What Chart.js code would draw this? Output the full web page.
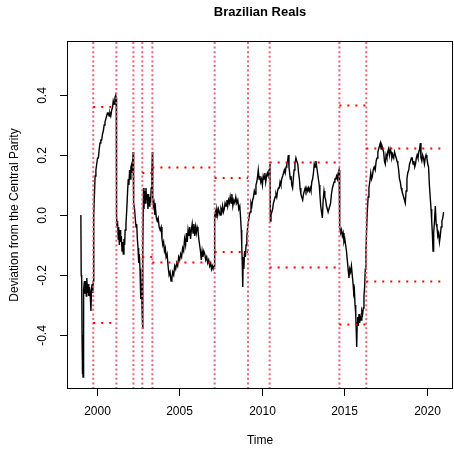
<!DOCTYPE html>
<html>
<head>
<meta charset="utf-8">
<script src="https://cdn.jsdelivr.net/npm/chart.js@4"></script>
<style>
html,body{margin:0;padding:0;background:#fff;}
#wrap{width:454px;height:452px;}
</style>
</head>
<body>
<div id="wrap"><canvas id="c" width="454" height="452"></canvas></div>
<script>
// ---- data ----
const titleText = "Brazilian Reals";
const xTitle = "Time";
const yTitle = "Deviation from the Central Parity";
const xTicks = [2000, 2005, 2010, 2015, 2020];
const yTicks = [-0.4, -0.2, 0.0, 0.2, 0.4];

const times = [
1999.04,1999.06,1999.09,1999.11,1999.13,1999.15,1999.17,1999.19,1999.22,1999.25,1999.29,1999.33,1999.37,1999.40,1999.44,1999.48,1999.52,1999.56,1999.60,1999.65,1999.68,1999.72,1999.76,1999.79,
1999.82,1999.85,1999.90,1999.95,2000.00,2000.05,2000.10,2000.15,2000.20,2000.25,2000.30,2000.35,2000.40,2000.45,2000.50,2000.55,2000.60,2000.65,2000.70,2000.75,2000.80,2000.85,2000.91,2000.96,2001.00,2001.05,2001.10,2001.15,2001.18,
2001.20,2001.23,2001.26,2001.30,2001.33,2001.37,2001.41,2001.45,2001.49,2001.53,2001.57,2001.61,2001.65,2001.69,2001.72,2001.77,2001.82,2001.87,2001.91,2001.95,2001.99,2002.03,2002.07,2002.12,2002.16,2002.20,2002.22,
2002.25,2002.29,2002.33,2002.38,2002.42,2002.46,2002.50,2002.54,2002.58,2002.62,2002.65,2002.68,2002.72,2002.75,2002.78,
2002.80,2002.83,2002.86,2002.90,2002.94,2002.98,2003.02,2003.06,2003.10,2003.14,2003.18,2003.22,2003.26,2003.30,2003.34,2003.37,
2003.39,2003.43,2003.47,2003.52,2003.56,2003.61,2003.66,2003.72,2003.78,2003.84,2003.90,2003.95,2004.00,2004.05,2004.10,2004.15,2004.20,2004.26,2004.32,2004.38,2004.44,2004.50,2004.55,2004.60,2004.66,2004.72,2004.78,2004.84,2004.90,2004.96,
2005.02,2005.08,2005.14,2005.20,2005.26,2005.32,2005.38,2005.43,2005.48,2005.53,2005.58,2005.63,2005.68,2005.73,2005.78,2005.83,2005.88,2005.93,2005.98,2006.03,2006.08,2006.13,2006.18,2006.23,2006.28,2006.33,2006.38,2006.43,2006.48,2006.54,2006.60,2006.66,2006.72,2006.78,2006.84,2006.90,2006.95,2007.00,2007.05,2007.11,
2007.14,2007.18,2007.22,2007.27,2007.32,2007.37,2007.42,2007.47,2007.52,2007.57,2007.62,2007.67,2007.72,2007.77,2007.83,2007.88,2007.93,2007.98,2008.03,2008.08,2008.13,2008.18,2008.24,2008.30,2008.36,2008.42,2008.48,2008.54,2008.60,2008.66,2008.71,2008.75,2008.78,2008.81,2008.84,2008.87,2008.91,2008.95,
2009.00,2009.04,2009.09,2009.14,2009.19,2009.24,2009.29,2009.34,2009.39,2009.44,2009.49,2009.54,2009.59,2009.64,2009.69,2009.74,2009.78,2009.83,2009.88,2009.93,2009.98,2010.03,2010.08,2010.13,2010.18,2010.23,2010.28,2010.33,2010.38,2010.43,2010.49,
2010.51,2010.55,2010.60,2010.65,2010.70,2010.75,2010.80,2010.85,2010.90,2010.95,2011.00,2011.05,2011.10,2011.15,2011.20,2011.26,2011.31,2011.36,2011.41,2011.46,2011.51,2011.56,2011.60,2011.64,2011.68,2011.72,2011.76,2011.81,2011.86,2011.90,2011.95,
2012.00,2012.06,2012.11,2012.17,2012.22,2012.27,2012.31,2012.36,2012.41,2012.47,2012.52,2012.57,2012.62,2012.67,2012.72,2012.77,2012.82,2012.87,2012.92,2012.97,2013.02,2013.07,2013.12,2013.17,2013.22,2013.27,2013.32,2013.37,2013.42,2013.47,2013.51,2013.56,2013.61,2013.66,2013.71,2013.76,2013.81,2013.86,2013.91,2013.96,
2014.01,2014.06,2014.11,2014.16,2014.21,2014.27,2014.32,2014.37,2014.42,2014.47,2014.52,2014.57,2014.62,2014.67,2014.70,
2014.72,2014.77,2014.82,2014.87,2014.92,2014.97,2015.02,2015.07,2015.12,2015.17,2015.22,2015.27,2015.32,2015.37,2015.42,2015.47,2015.52,2015.56,2015.60,2015.64,2015.68,2015.71,2015.74,2015.77,2015.80,2015.84,2015.88,2015.92,2015.96,2016.00,2016.05,2016.10,2016.14,2016.18,2016.22,2016.26,2016.30,
2016.34,2016.38,2016.43,2016.48,2016.53,2016.59,2016.64,2016.69,2016.74,2016.80,2016.86,2016.92,2016.97,2017.02,2017.07,2017.12,2017.17,2017.22,2017.27,2017.32,2017.37,2017.42,2017.47,2017.52,2017.57,2017.62,2017.67,2017.72,2017.77,2017.82,2017.87,2017.92,2017.98,
2018.03,2018.08,2018.13,2018.18,2018.23,2018.28,2018.33,2018.38,2018.43,2018.48,2018.53,2018.58,2018.63,2018.68,2018.73,2018.78,2018.83,2018.89,2018.94,2019.00,2019.05,2019.10,2019.15,2019.20,2019.25,2019.30,2019.35,2019.40,2019.45,2019.50,2019.55,2019.59,2019.63,2019.68,2019.73,2019.78,2019.84,2019.89,2019.94,2019.99,
2020.04,2020.09,2020.14,2020.19,2020.24,2020.28,2020.32,2020.36,2020.40,2020.45,2020.50,2020.55,2020.60,2020.65,2020.70,2020.75,2020.80,2020.85,2020.90,2020.95,2021.00
];
const values = [
0.00,-0.20,-0.21,-0.40,-0.53,-0.45,-0.54,-0.38,-0.25,-0.22,-0.26,-0.22,-0.27,-0.21,-0.26,-0.23,-0.27,-0.24,-0.26,-0.32,-0.25,-0.23,-0.26,-0.22,
0.00,0.05,0.13,0.15,0.17,0.19,0.19,0.22,0.24,0.25,0.25,0.27,0.28,0.30,0.31,0.32,0.33,0.34,0.34,0.33,0.34,0.33,0.35,0.36,0.38,0.37,0.39,0.40,0.39,
0.00,-0.04,-0.02,-0.08,-0.04,-0.10,-0.05,-0.09,-0.07,-0.12,-0.09,-0.13,-0.08,-0.10,-0.05,-0.03,0.02,0.08,0.12,0.10,0.15,0.12,0.16,0.17,0.14,0.21,0.20,
0.04,0.02,-0.01,-0.04,-0.03,-0.08,-0.11,-0.16,-0.13,-0.18,-0.28,-0.20,-0.26,-0.33,-0.38,
-0.12,0.09,0.02,0.08,0.04,0.09,0.05,0.07,0.02,0.07,0.03,0.06,0.04,0.09,0.15,0.21,
0.06,0.03,0.04,0.00,0.02,-0.01,-0.02,-0.01,-0.04,-0.05,-0.04,-0.08,-0.10,-0.09,-0.12,-0.11,-0.14,-0.13,-0.17,-0.20,-0.19,-0.22,-0.21,-0.19,-0.20,-0.17,-0.18,-0.16,-0.17,-0.14,
-0.15,-0.13,-0.14,-0.11,-0.12,-0.08,-0.10,-0.06,-0.09,-0.05,-0.07,-0.04,-0.08,-0.05,-0.03,-0.06,-0.03,-0.07,-0.04,-0.06,-0.04,-0.05,-0.08,-0.10,-0.12,-0.15,-0.12,-0.14,-0.12,-0.13,-0.15,-0.14,-0.16,-0.15,-0.17,-0.16,-0.18,-0.17,-0.18,-0.17,
0.00,0.01,-0.01,0.02,0.00,0.02,0.01,0.00,0.02,0.01,0.03,0.01,0.02,0.04,0.03,0.05,0.03,0.05,0.04,0.06,0.04,0.07,0.03,0.05,0.04,0.06,0.04,0.05,0.02,0.03,-0.01,-0.05,-0.10,-0.16,-0.24,-0.14,-0.18,-0.12,
-0.14,-0.10,-0.07,-0.04,-0.02,0.00,0.01,0.04,0.03,0.05,0.06,0.08,0.07,0.10,0.11,0.13,0.15,0.12,0.13,0.11,0.12,0.10,0.13,0.12,0.14,0.11,0.13,0.14,0.13,0.15,0.17,
-0.02,0.00,0.01,0.02,0.04,0.05,0.06,0.07,0.06,0.08,0.09,0.09,0.11,0.10,0.12,0.13,0.14,0.15,0.14,0.16,0.17,0.18,0.20,0.16,0.14,0.12,0.13,0.10,0.09,0.12,0.15,
0.17,0.19,0.18,0.17,0.14,0.12,0.09,0.07,0.06,0.05,0.07,0.08,0.09,0.08,0.09,0.08,0.09,0.08,0.09,0.08,0.11,0.12,0.14,0.17,0.16,0.18,0.16,0.14,0.12,0.10,0.07,0.03,0.01,-0.01,0.05,0.08,0.06,0.05,0.03,0.02,
0.01,0.01,0.03,0.04,0.07,0.09,0.10,0.11,0.12,0.12,0.13,0.12,0.14,0.15,0.13,
-0.04,-0.06,-0.05,-0.07,-0.06,-0.09,-0.08,-0.10,-0.12,-0.15,-0.18,-0.21,-0.18,-0.19,-0.17,-0.20,-0.23,-0.26,-0.25,-0.30,-0.33,-0.38,-0.44,-0.36,-0.34,-0.37,-0.33,-0.36,-0.34,-0.35,-0.32,-0.33,-0.31,-0.27,-0.24,-0.18,-0.12,
-0.05,0.01,0.06,0.09,0.11,0.14,0.12,0.13,0.15,0.16,0.15,0.18,0.19,0.21,0.22,0.23,0.24,0.22,0.23,0.22,0.21,0.18,0.17,0.20,0.19,0.21,0.22,0.20,0.22,0.21,0.19,0.20,0.19,
0.21,0.20,0.19,0.18,0.17,0.15,0.12,0.11,0.09,0.08,0.07,0.06,0.05,0.04,0.08,0.12,0.14,0.15,0.17,0.18,0.19,0.19,0.17,0.18,0.16,0.17,0.19,0.20,0.19,0.21,0.22,0.24,0.19,0.18,0.20,0.19,0.17,0.19,0.20,0.19,
0.17,0.16,0.10,0.06,0.02,-0.02,-0.06,-0.12,-0.06,-0.02,0.03,-0.03,-0.04,-0.07,-0.06,-0.09,-0.07,-0.04,-0.02,-0.01,0.01
];

// structural breaks (vertical dotted lines)
const breaks = [1999.79, 2001.19, 2002.22, 2002.76, 2003.37, 2007.14, 2009.16, 2010.47, 2014.69, 2016.32];
// band segments (horizontal dotted lines at +/- halfWidth)
const bandStart = [1999.79, 2002.76, 2003.37, 2007.14, 2010.47, 2014.69, 2016.32];
const bandEnd   = [2001.19, 2003.37, 2007.14, 2009.16, 2014.69, 2016.32, 2021.00];
const bandHalf  = [0.360, 0.140, 0.158, 0.123, 0.175, 0.365, 0.222];

const xMin = 1998.2, xMax = 2021.57, yMin = -0.58, yMax = 0.58;

// ---- build datasets ----
const seriesData = times.map((t, i) => ({x: t, y: values[i]}));
const vData = [];
breaks.forEach(b => { vData.push({x: b, y: yMin}, {x: b, y: yMax}, {x: b, y: null}); });
const upData = [], loData = [];
bandStart.forEach((s, i) => {
  upData.push({x: s, y: bandHalf[i]}, {x: bandEnd[i], y: bandHalf[i]}, {x: bandEnd[i], y: null});
  loData.push({x: s, y: -bandHalf[i]}, {x: bandEnd[i], y: -bandHalf[i]}, {x: bandEnd[i], y: null});
});

const FONT = '"Liberation Sans", Arial, Helvetica, sans-serif';

const deco = {
  id: 'deco',
  afterDraw(chart) {
    const {ctx, chartArea: a, scales: {x, y}} = chart;
    ctx.save();
    ctx.strokeStyle = '#000';
    ctx.lineWidth = 1;
    ctx.strokeRect(a.left + 0.5, a.top + 0.5, a.right - a.left - 1, a.bottom - a.top - 1);
    ctx.fillStyle = '#000';
    ctx.font = '12px ' + FONT;
    ctx.textAlign = 'center';
    ctx.textBaseline = 'middle';
    xTicks.forEach(t => {
      const px = Math.round(x.getPixelForValue(t)) + 0.5;
      ctx.beginPath(); ctx.moveTo(px, a.bottom); ctx.lineTo(px, a.bottom + 7); ctx.stroke();
      ctx.fillText(String(t), px, a.bottom + 23);
    });
    yTicks.forEach(t => {
      const py = Math.round(y.getPixelForValue(t)) + 0.5;
      ctx.beginPath(); ctx.moveTo(a.left, py); ctx.lineTo(a.left - 7, py); ctx.stroke();
      ctx.save(); ctx.translate(43, py); ctx.rotate(-Math.PI / 2);
      ctx.fillText(t.toFixed(1), 0, 0); ctx.restore();
    });
    ctx.fillText(xTitle, (a.left + a.right) / 2, 441);
    ctx.save(); ctx.translate(15, (a.top + a.bottom) / 2); ctx.rotate(-Math.PI / 2);
    ctx.fillText(yTitle, 0, 0); ctx.restore();
    ctx.font = 'bold 13px ' + FONT;
    ctx.fillText(titleText, (a.left + a.right) / 2, 12);
    ctx.restore();
  }
};

new Chart(document.getElementById('c'), {
  type: 'line',
  data: {
    datasets: [
      {data: seriesData, borderColor: '#000', borderWidth: 1.4, pointRadius: 0, tension: 0, order: 3},
      {data: vData, borderColor: '#E5647A', borderWidth: 2, borderDash: [2, 2.6], pointRadius: 0, spanGaps: false, order: 2},
      {data: upData, borderColor: '#FF0000', borderWidth: 2, borderDash: [2, 6], pointRadius: 0, spanGaps: false, order: 1},
      {data: loData, borderColor: '#FF0000', borderWidth: 2, borderDash: [2, 6], pointRadius: 0, spanGaps: false, order: 1}
    ]
  },
  options: {
    responsive: false,
    animation: false,
    events: [],
    layout: {padding: {left: 67, right: 1, top: 41, bottom: 63}},
    plugins: {legend: {display: false}, tooltip: {enabled: false}, title: {display: false}},
    scales: {
      x: {type: 'linear', display: false, min: xMin, max: xMax},
      y: {type: 'linear', display: false, min: yMin, max: yMax}
    }
  },
  plugins: [deco]
});
</script>
</body>
</html>
